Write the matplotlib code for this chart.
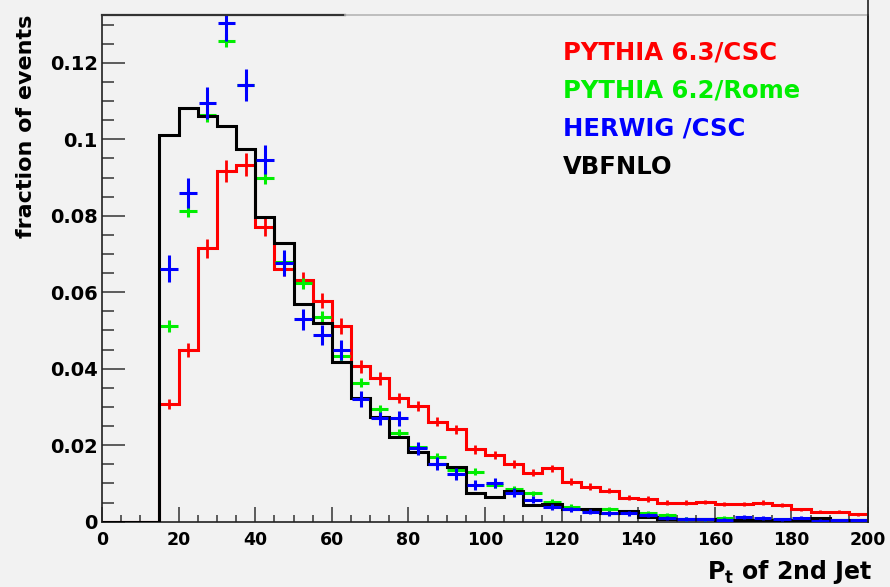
import numpy as np
import matplotlib
matplotlib.use("Agg")
import matplotlib.pyplot as plt
from matplotlib.lines import Line2D
from matplotlib.ticker import MultipleLocator, FuncFormatter

# bin edges (5 GeV bins from 0 to 200)
edges = np.arange(0, 205, 5)
centers = edges[:-1] + 2.5

# histogram contents, first three bins (0-15) are empty
red_frac = [0, 0, 0,
            0.0308, 0.0449, 0.0715, 0.0917, 0.0933, 0.0771, 0.0662, 0.0632,
            0.0578, 0.0512, 0.0407, 0.0375, 0.0323, 0.0302, 0.0261, 0.0242,
            0.0189, 0.0174, 0.0151, 0.0128, 0.0140, 0.0105, 0.0092, 0.0081,
            0.0063, 0.0059, 0.0050, 0.0050, 0.0052, 0.0046, 0.0046, 0.0050,
            0.0044, 0.0032, 0.0026, 0.0026, 0.0020]
red_err = [0, 0, 0,
           0.0014, 0.0019, 0.0025, 0.0030, 0.0030, 0.0025, 0.0019, 0.0020,
           0.0020, 0.0021, 0.0017, 0.0017, 0.0013, 0.0013, 0.0012, 0.0012,
           0.0011, 0.0011, 0.0010, 0.0009, 0.0009, 0.0008, 0.0008, 0.0007,
           0.0007, 0.0007, 0.0006, 0.0006, 0.0006, 0.0006, 0.0006, 0.0006,
           0.0005, 0.0005, 0.0004, 0.0004, 0.0004]

vbf_frac = [0, 0, 0,
            0.1011, 0.1081, 0.1061, 0.1034, 0.0974, 0.0797, 0.0730, 0.0569,
            0.0519, 0.0418, 0.0323, 0.0275, 0.0222, 0.0183, 0.0150, 0.0144,
            0.0076, 0.0064, 0.0080, 0.0044, 0.0046, 0.0032, 0.0032, 0.0022,
            0.0029, 0.0013, 0.0006, 0.0006, 0.0006, 0.0004, 0.0005, 0.0004,
            0.0004, 0.0004, 0.0010, 0.0005, 0.0005]

green_frac = [0, 0, 0,
              0.0512, 0.0812, 0.1063, 0.1258, 0.1142, 0.0900, 0.0680, 0.0623,
              0.0536, 0.0433, 0.0363, 0.0294, 0.0231, 0.0196, 0.0170, 0.0135,
              0.0131, 0.0096, 0.0085, 0.0074, 0.0052, 0.0039, 0.0031, 0.0032,
              0.0026, 0.0024, 0.0017, 0.0007, 0.0006, 0.0010, 0.0005, 0.0005,
              0.0006, 0.0005, 0.0005, 0.0004, 0.0004]
green_err = [0, 0, 0,
             0.0015, 0.0016, 0.0017, 0.0017, 0.0016, 0.0016, 0.0015, 0.0014,
             0.0014, 0.0013, 0.0012, 0.0011, 0.0011, 0.0010, 0.0010, 0.0009,
             0.0009, 0.0008, 0.0008, 0.0007, 0.0007, 0.0006, 0.0006, 0.0006,
             0.0005, 0.0005, 0.0005, 0.0004, 0.0004, 0.0004, 0.0004, 0.0004,
             0.0004, 0.0004, 0.0004, 0.0003, 0.0003]

blue_frac = [0, 0, 0,
             0.0662, 0.0860, 0.1095, 0.1304, 0.1142, 0.0947, 0.0676, 0.0529,
             0.0488, 0.0449, 0.0320, 0.0270, 0.0270, 0.0192, 0.0151, 0.0125,
             0.0096, 0.0100, 0.0076, 0.0057, 0.0039, 0.0032, 0.0026, 0.0022,
             0.0022, 0.0017, 0.0009, 0.0008, 0.0006, 0.0005, 0.0013, 0.0010,
             0.0006, 0.0010, 0.0003, 0.0004, 0.0004]
blue_err = [0, 0, 0,
            0.0035, 0.0040, 0.0043, 0.0046, 0.0043, 0.0038, 0.0034, 0.0028,
            0.0026, 0.0025, 0.0021, 0.0018, 0.0020, 0.0017, 0.0017, 0.0016,
            0.0013, 0.0013, 0.0011, 0.0009, 0.0008, 0.0007, 0.0007, 0.0006,
            0.0006, 0.0006, 0.0005, 0.0005, 0.0004, 0.0004, 0.0005, 0.0005,
            0.0004, 0.0004, 0.0003, 0.0003, 0.0003]

labels = ["PYTHIA 6.3/CSC", "PYTHIA 6.2/Rome", "HERWIG /CSC", "VBFNLO"]
colors = ["#ff0000", "#00ee00", "#0000ff", "#000000"]

bg = "#f2f2f2"
plt.rcParams["font.family"] = ["DejaVu Sans"]
plt.rcParams["font.weight"] = "bold"
plt.rcParams["mathtext.default"] = "bf"

fig = plt.figure(figsize=(8.9, 5.87), dpi=100, facecolor=bg)
ax = fig.add_axes([102/890, 65.3/587, 766/890, 506.7/587], facecolor=bg)

first = 3  # first filled bin
lw = 2.2

ax.stairs(red_frac, edges, color=colors[0], lw=lw, baseline=None, zorder=2)
ax.errorbar(centers[first:], red_frac[first:], yerr=red_err[first:], fmt="none",
            ecolor=colors[0], elinewidth=2.0, zorder=2)
ax.errorbar(centers[first:], green_frac[first:], xerr=2.3, yerr=green_err[first:],
            fmt="none", ecolor=colors[1], elinewidth=2.2, zorder=3)
ax.stairs(vbf_frac, edges, color=colors[3], lw=lw, baseline=None, zorder=4)
ax.errorbar(centers[first:], blue_frac[first:], xerr=2.3, yerr=blue_err[first:],
            fmt="none", ecolor=colors[2], elinewidth=2.2, zorder=5)

ax.set_xlim(0, 200)
ax.set_ylim(0, 0.1325)

ax.xaxis.set_major_locator(MultipleLocator(20))
ax.xaxis.set_minor_locator(MultipleLocator(5))
ax.yaxis.set_major_locator(MultipleLocator(0.02))
ax.yaxis.set_minor_locator(MultipleLocator(0.005))
ax.yaxis.set_major_formatter(FuncFormatter(lambda v, p: "%g" % round(v, 3)))

tc = "#333333"
ax.tick_params(axis="x", which="major", direction="in", length=10.8, width=1.1,
               pad=7, labelsize=12.5, color=tc)
ax.tick_params(axis="x", which="minor", direction="in", length=5.4, width=1.1, color=tc)
ax.tick_params(axis="y", which="major", direction="in", length=16.5, width=1.1,
               pad=3, labelsize=14, color=tc)
ax.tick_params(axis="y", which="minor", direction="in", length=8.3, width=1.1, color=tc)

for s in ["left", "bottom", "right"]:
    ax.spines[s].set_color("#222222")
    ax.spines[s].set_linewidth(1.2)
ax.spines["top"].set_visible(False)

# top frame: dark on the left part, light further right
ax.plot([0, 63.5], [1, 1], transform=ax.get_xaxis_transform(), color="#333333",
        lw=1.6, clip_on=False, zorder=6)
ax.plot([63.5, 200], [1, 1], transform=ax.get_xaxis_transform(), color="#b5b5b5",
        lw=1.2, clip_on=False, zorder=6)
fig.add_artist(Line2D([868/890, 868/890], [65.3/587, 1.0], color="#222222", lw=1.2))

ax.set_ylabel("fraction of events", fontsize=16, fontweight="bold", loc="top")
ax.yaxis.set_label_coords(-0.086, 1.0)
ax.set_xlabel(r"P$_{\mathbf{t}}$ of 2nd Jet", fontsize=17, fontweight="bold", loc="right")
ax.xaxis.set_label_coords(1.005, -0.072)

for i, (lab, c) in enumerate(zip(labels, colors)):
    fig.text(563/890, 1 - (59 + 38.3*i)/587, lab, color=c, fontsize=17.5,
             fontweight="bold", ha="left", va="baseline")

fig.savefig("out.png", dpi=100, facecolor=bg)
